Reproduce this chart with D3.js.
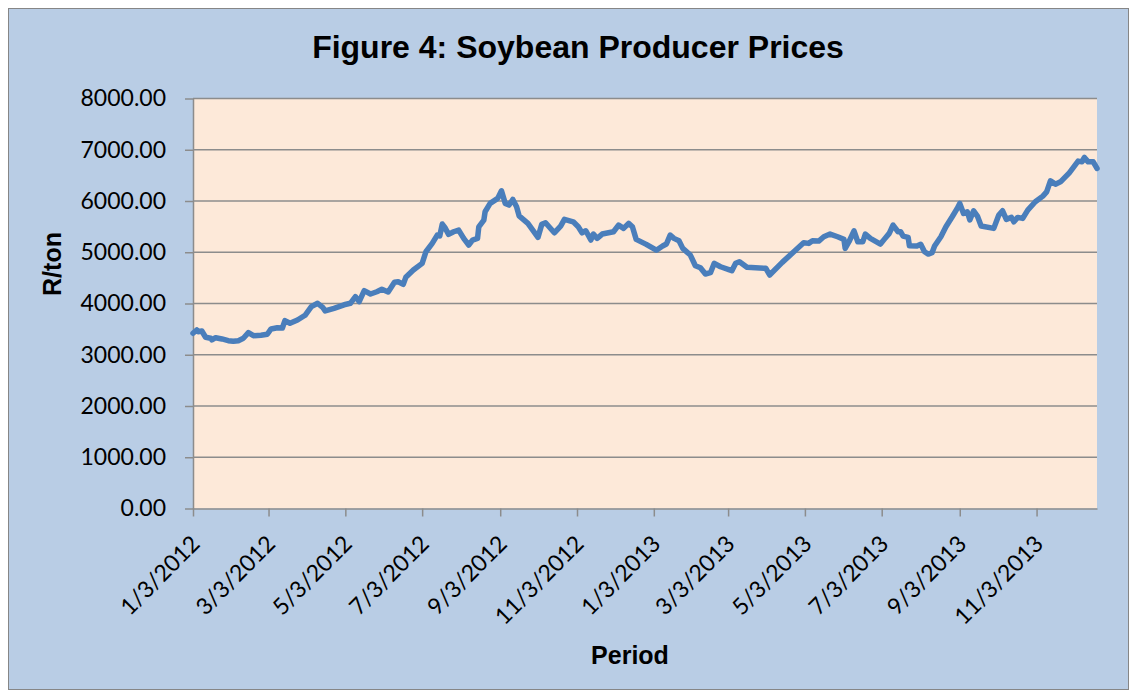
<!DOCTYPE html>
<html>
<head>
<meta charset="utf-8">
<script src="https://cdn.jsdelivr.net/npm/d3@7"></script>
<style>
  body { margin: 0; background: #fff; }
  svg { display: block; }
</style>
</head>
<body>
<svg id="chart" width="1136" height="694"></svg>
<script>
const dates = [
  "2012-01-03","2012-01-06","2012-01-07","2012-01-10","2012-01-13","2012-01-17","2012-01-18","2012-01-21",
  "2012-01-26","2012-01-31","2012-02-04","2012-02-08","2012-02-12","2012-02-16","2012-02-20","2012-02-26",
  "2012-03-02","2012-03-05","2012-03-10","2012-03-14","2012-03-16","2012-03-20","2012-03-26","2012-04-01",
  "2012-04-06","2012-04-11","2012-04-15","2012-04-17","2012-04-24","2012-05-02","2012-05-07","2012-05-11",
  "2012-05-14","2012-05-18","2012-05-23","2012-05-28","2012-06-01","2012-06-06","2012-06-11","2012-06-14",
  "2012-06-18","2012-06-20","2012-06-26","2012-07-03","2012-07-06","2012-07-11","2012-07-15","2012-07-17",
  "2012-07-19","2012-07-21","2012-07-24","2012-07-28","2012-08-01","2012-08-05","2012-08-09","2012-08-12",
  "2012-08-16","2012-08-17","2012-08-21","2012-08-22","2012-08-26","2012-09-01","2012-09-04","2012-09-07",
  "2012-09-10","2012-09-13","2012-09-16","2012-09-18","2012-09-25","2012-10-03","2012-10-06","2012-10-09",
  "2012-10-16","2012-10-21","2012-10-24","2012-10-31","2012-11-04","2012-11-07","2012-11-10","2012-11-14",
  "2012-11-16","2012-11-19","2012-11-23","2012-12-02","2012-12-06","2012-12-10","2012-12-14","2012-12-17",
  "2012-12-20","2012-12-28","2013-01-05","2013-01-10","2013-01-13","2013-01-16","2013-01-19","2013-01-23",
  "2013-01-26","2013-02-01","2013-02-05","2013-02-09","2013-02-13","2013-02-17","2013-02-20","2013-02-25",
  "2013-03-03","2013-03-06","2013-03-09","2013-03-12","2013-03-18","2013-04-02","2013-04-05","2013-04-15",
  "2013-05-02","2013-05-06","2013-05-09","2013-05-14","2013-05-18","2013-05-23","2013-05-29","2013-06-03",
  "2013-06-04","2013-06-07","2013-06-11","2013-06-14","2013-06-18","2013-06-20","2013-06-24","2013-07-02",
  "2013-07-05","2013-07-09","2013-07-12","2013-07-16","2013-07-18","2013-07-20","2013-07-24","2013-07-25",
  "2013-07-31","2013-08-03","2013-08-06","2013-08-09","2013-08-12","2013-08-14","2013-08-19","2013-08-23",
  "2013-08-28","2013-09-01","2013-09-03","2013-09-06","2013-09-09","2013-09-11","2013-09-14","2013-09-17",
  "2013-09-20","2013-09-30","2013-10-04","2013-10-07","2013-10-10","2013-10-14","2013-10-16","2013-10-19",
  "2013-10-23","2013-10-27","2013-11-02","2013-11-08","2013-11-11","2013-11-14","2013-11-18","2013-11-22",
  "2013-11-29","2013-12-06","2013-12-09","2013-12-11","2013-12-14","2013-12-18","2013-12-21"
];

const prices = [
  3419,3484,3450,3464,3341,3322,3289,3333,
  3308,3275,3263,3275,3322,3431,3372,3380,
  3400,3503,3528,3522,3665,3614,3678,3770,
  3938,4004,3926,3854,3906,3975,4004,4133,
  4035,4250,4185,4230,4277,4224,4413,4425,
  4374,4511,4653,4784,5010,5173,5335,5320,
  5550,5485,5349,5400,5433,5271,5140,5238,
  5271,5497,5628,5790,5953,6051,6199,5953,
  5920,6031,5887,5711,5563,5290,5544,5575,
  5380,5511,5641,5594,5497,5380,5419,5238,
  5355,5271,5355,5400,5530,5466,5563,5497,
  5251,5154,5040,5121,5160,5335,5271,5224,
  5076,4945,4737,4698,4575,4601,4784,4717,
  4667,4639,4784,4815,4706,4686,4556,4803,
  5185,5173,5224,5218,5302,5355,5302,5251,
  5076,5205,5419,5205,5205,5355,5271,5160,
  5251,5368,5530,5400,5400,5316,5290,5127,
  5121,5154,5010,4965,4990,5121,5302,5497,
  5692,5856,5953,5758,5790,5630,5809,5706,
  5511,5466,5725,5809,5641,5680,5594,5680,
  5660,5823,5985,6096,6179,6393,6329,6374,
  6550,6778,6764,6850,6764,6764,6636
];

const xTickDates = [
  "2012-01-03","2012-03-03","2012-05-03","2012-07-03","2012-09-03","2012-11-03",
  "2013-01-03","2013-03-03","2013-05-03","2013-07-03","2013-09-03","2013-11-03"
];
const yTicks = [0, 1000, 2000, 3000, 4000, 5000, 6000, 7000, 8000];

const parse = d3.timeParse("%Y-%m-%d");
const data = dates.map((d, i) => ({ date: parse(d), price: prices[i] }));

const svg = d3.select("#chart");

// outer chart frame
svg.append("rect")
  .attr("x", 8.5).attr("y", 8.5)
  .attr("width", 1120).attr("height", 681)
  .attr("fill", "#b9cde5")
  .attr("stroke", "#868686")
  .attr("stroke-width", 1);

const plot = { left: 193, top: 98.5, right: 1097, bottom: 508.5 };
const innerWidth = plot.right - plot.left;
const innerHeight = plot.bottom - plot.top;

const g = svg.append("g")
  .attr("transform", `translate(${plot.left},${plot.top})`);

const xScale = d3.scaleTime()
  .domain(d3.extent(data, d => d.date))
  .range([0, innerWidth]);

const yScale = d3.scaleLinear()
  .domain([0, 8000])
  .range([innerHeight, 0]);

g.append("rect")
  .attr("width", innerWidth)
  .attr("height", innerHeight)
  .attr("fill", "#fde9d9");

// gridlines
g.append("g")
  .selectAll("line")
  .data(yTicks.filter(t => t > 0))
  .enter()
  .append("line")
  .attr("x1", 0)
  .attr("x2", innerWidth)
  .attr("y1", d => yScale(d))
  .attr("y2", d => yScale(d))
  .attr("stroke", "#8c8c8c")
  .attr("stroke-width", 1.5);

const yAxis = g.append("g")
  .call(d3.axisLeft(yScale).tickValues(yTicks).tickFormat(d3.format(".2f"))
    .tickSize(8).tickSizeOuter(0).tickPadding(19));

const xAxis = g.append("g")
  .attr("transform", `translate(0,${innerHeight})`)
  .call(d3.axisBottom(xScale).tickValues(xTickDates.map(parse))
    .tickFormat(d3.timeFormat("%-m/%-d/%Y")).tickSize(8).tickSizeOuter(0));

[yAxis, xAxis].forEach(ax => {
  ax.select(".domain").attr("stroke", "#8c8c8c").attr("stroke-width", 1.5);
  ax.selectAll(".tick line").attr("stroke", "#8c8c8c").attr("stroke-width", 1.5);
  ax.selectAll(".tick text")
    .attr("fill", "#000")
    .style("font-family", "Lato, 'Open Sans', sans-serif")
    .style("font-size", "23px");
});

xAxis.selectAll(".tick text")
  .attr("x", 0)
  .attr("y", 0)
  .attr("dy", "0.35em")
  .attr("text-anchor", "end")
  .attr("transform", "translate(2,31) rotate(-45)");

// price line
const line = d3.line()
  .x(d => xScale(d.date))
  .y(d => yScale(d.price));

g.append("path")
  .datum(data)
  .attr("d", line)
  .attr("fill", "none")
  .attr("stroke", "#4a7ebb")
  .attr("stroke-width", 5.5)
  .attr("stroke-linejoin", "round")
  .attr("stroke-linecap", "round");

// titles
svg.append("text")
  .attr("x", 578)
  .attr("y", 58)
  .attr("text-anchor", "middle")
  .style("font-family", "'Liberation Sans', Arial, sans-serif")
  .style("font-weight", "bold")
  .style("font-size", "32px")
  .text("Figure 4: Soybean Producer Prices");

svg.append("text")
  .attr("x", 630)
  .attr("y", 664)
  .attr("text-anchor", "middle")
  .style("font-family", "'Liberation Sans', Arial, sans-serif")
  .style("font-weight", "bold")
  .style("font-size", "25px")
  .text("Period");

svg.append("text")
  .attr("transform", "translate(61,264) rotate(-90)")
  .attr("text-anchor", "middle")
  .style("font-family", "'Liberation Sans', Arial, sans-serif")
  .style("font-weight", "bold")
  .style("font-size", "25px")
  .text("R/ton");
</script>
</body>
</html>
